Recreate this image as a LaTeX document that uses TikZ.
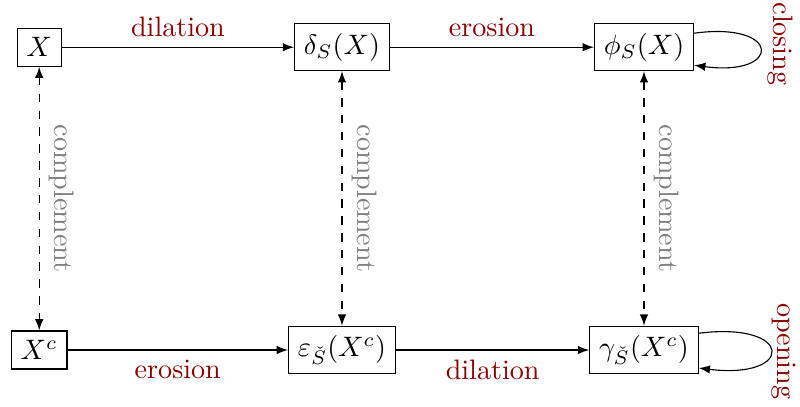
\documentclass[tikz,border=0pt]{standalone}
\usepackage{amsmath,amssymb}
\begin{document}
\begin{tikzpicture}[>=latex,
  box/.style={draw,fill=white},
  oplabel/.style={text=red!55!black},
  cmplabel/.style={text=gray,midway,sloped,above}]
\useasboundingbox (0,0) rectangle (10,-5.075);

% top row
\node[box] (X) at (0.49,-0.59) {$X$};
\node[box] (dX) at (4.275,-0.59) {$\delta_S(X)$};
\node[box] (pX) at (8.05,-0.59) {$\phi_S(X)$};

% bottom row
\node[box] (Xc) at (0.49,-4.375) {$X^c$};
\node[box] (eX) at (4.275,-4.375) {$\varepsilon_{\check{S}}(X^c)$};
\node[box] (gX) at (8.05,-4.375) {$\gamma_{\check{S}}(X^c)$};

\draw[->] (X) -- node[oplabel,above] {dilation} (dX);
\draw[->] (dX) -- node[oplabel,above] {erosion} (pX);
\draw[->] (Xc) -- node[oplabel,below] {erosion} (eX);
\draw[->] (eX) -- node[oplabel,below] {dilation} (gX);

\draw[<->,dashed] (X) -- node[cmplabel] {complement} (Xc);
\draw[<->,dashed] (dX) -- node[cmplabel] {complement} (eX);
\draw[<->,dashed] (pX) -- node[cmplabel] {complement} (gX);

% loops
\draw[->] ([yshift=0.175cm]pX.east) .. controls +(1.1,0.15) and +(1.1,-0.15) .. ([yshift=-0.225cm]pX.east);
\draw[->] ([yshift=0.21cm]gX.east) .. controls +(1.2,0.15) and +(1.2,-0.15) .. ([yshift=-0.225cm]gX.east);

\node[oplabel,rotate=-90] (cl) at (9.76,-0.55) {closing};
\node[oplabel,rotate=-90] (op) at (9.8,-4.39) {opening};
\end{tikzpicture}
\end{document}
